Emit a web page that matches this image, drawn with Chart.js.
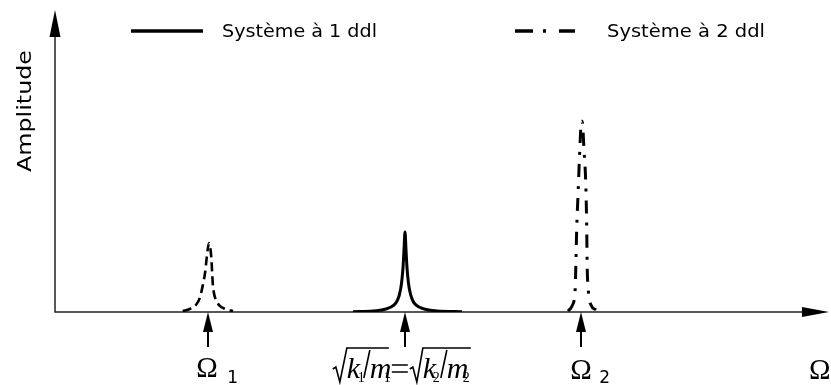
<!DOCTYPE html>
<html><head><meta charset="utf-8">
<script src="https://cdn.jsdelivr.net/npm/chart.js@4/dist/chart.umd.min.js"></script>
<style>html,body{margin:0;padding:0;background:#fff;}#wrap{width:831px;height:385px;position:relative;}</style>
</head><body><div id="wrap"><canvas id="c" width="831" height="385"></canvas></div>
<script>
// ---- data (x: frequency, arbitrary units 0..100 ; y: amplitude, 0..100) ----
const sys1X = [38.5, 41.09, 42.64, 43.41, 43.93, 44.19, 44.45, 44.57, 44.70, 44.83, 44.96, 45.09, 45.22, 45.35, 45.48, 45.61, 45.74, 45.87, 46.0, 46.25, 46.51, 47.03, 47.80, 49.35, 52.58];
const sys1Y = [0.1, 0.33, 0.93, 1.66, 2.65, 3.64, 5.3, 6.6, 8.3, 10.9, 14.6, 20.5, 26.5, 20.5, 14.6, 10.9, 8.3, 6.6, 5.3, 3.64, 2.65, 1.66, 0.93, 0.33, 0.1];
const sys2aX = [16.5, 17.4, 18.2, 18.7, 19.1, 19.4, 19.6, 19.9, 20.2, 20.3, 20.4, 20.7, 21.2, 22.0, 23.0];
const sys2aY = [0.3, 1.0, 2.3, 4.6, 8.9, 13.2, 17.9, 22.8, 17.9, 13.2, 8.9, 4.6, 2.3, 1.0, 0.3];
const sys2bX = [66.3, 66.8, 67.2, 67.3, 67.4, 67.6, 67.8, 68.0, 68.1, 68.35, 68.6, 68.7, 68.75, 68.9, 69.25, 69.9];
const sys2bY = [0.3, 2.0, 7.3, 16.2, 27.2, 40.4, 53.6, 62.9, 63.2, 53.6, 40.4, 27.2, 16.2, 7.3, 2.3, 0.7];
const markX = [19.8, 45.2, 68.0];          // Ω1, sqrt(k/m), Ω2
const legendLabels = ['Système à 1 ddl', 'Système à 2 ddl'];
const axisYLabel = 'Amplitude';
const axisXLabel = 'Ω';

const toPts = (xs, ys) => xs.map((x, i) => ({x, y: ys[i]}));

const SANS = '"DejaVu Sans", sans-serif';
const SERIF = '"Liberation Serif", "DejaVu Serif", serif';

function fitText(ctx, text, x, y, w, font, align) {
  ctx.font = font;
  const m = ctx.measureText(text).width;
  ctx.save();
  ctx.translate(x, y);
  ctx.scale(w / m, 1);
  ctx.textAlign = align || 'left';
  ctx.fillText(text, 0, 0);
  ctx.restore();
}

const decor = {
  id: 'decor',
  beforeDatasetsDraw(chart) {
    const {ctx, chartArea: a} = chart;
    ctx.save();
    ctx.strokeStyle = '#222';
    ctx.lineWidth = 1.5;
    ctx.beginPath();
    ctx.moveTo(a.left, 30); ctx.lineTo(a.left, a.bottom);
    ctx.lineTo(a.right - 10, a.bottom);
    ctx.stroke();
    ctx.restore();
  },
  afterDraw(chart) {
    const {ctx, chartArea: a, scales} = chart;
    const xs = scales.x;
    ctx.save();
    ctx.fillStyle = '#000';
    ctx.strokeStyle = '#000';
    // axis arrowheads
    ctx.beginPath();
    ctx.moveTo(a.left, a.top); ctx.lineTo(a.left - 5.5, a.top + 27); ctx.lineTo(a.left + 5.5, a.top + 27); ctx.closePath(); ctx.fill();
    ctx.beginPath();
    ctx.moveTo(a.right, a.bottom); ctx.lineTo(a.right - 27, a.bottom - 5); ctx.lineTo(a.right - 27, a.bottom + 5); ctx.closePath(); ctx.fill();
    // peak arrows
    markX.forEach(v => {
      const px = Math.round(xs.getPixelForValue(v));
      ctx.beginPath();
      ctx.moveTo(px, a.bottom); ctx.lineTo(px - 5, a.bottom + 20); ctx.lineTo(px + 5, a.bottom + 20); ctx.closePath(); ctx.fill();
      ctx.lineWidth = 2;
      ctx.beginPath(); ctx.moveTo(px, a.bottom + 15); ctx.lineTo(px, a.bottom + 35); ctx.stroke();
    });
    // legend
    ctx.lineWidth = 3.5;
    ctx.setLineDash([]);
    ctx.beginPath(); ctx.moveTo(131, 31); ctx.lineTo(203, 31); ctx.stroke();
    ctx.setLineDash([18, 10, 3, 13]);
    ctx.beginPath(); ctx.moveTo(515, 31); ctx.lineTo(575, 31); ctx.stroke();
    ctx.setLineDash([]);
    ctx.textBaseline = 'middle';
    fitText(ctx, legendLabels[0], 222, 32, 155, '18px ' + SANS);
    fitText(ctx, legendLabels[1], 607, 32, 158, '18px ' + SANS);
    // y label
    ctx.save();
    ctx.translate(26, 111);
    ctx.rotate(-Math.PI / 2);
    fitText(ctx, axisYLabel, 0, 0, 122, '19px ' + SANS, 'center');
    ctx.restore();
    // omega labels
    ctx.textBaseline = 'alphabetic';
    const p1 = xs.getPixelForValue(markX[0]);
    const p2 = xs.getPixelForValue(markX[2]);
    ctx.font = '29px ' + SERIF; ctx.textAlign = 'left';
    ctx.fillText('Ω', p1 - 12, 377);
    ctx.fillText('Ω', p2 - 11, 379);
    ctx.fillText(axisXLabel, 809, 379);
    ctx.font = '17px ' + SANS;
    ctx.fillText('1', p1 + 19, 383);
    ctx.fillText('2', p2 + 18, 383);
    // sqrt(k1/m1) = sqrt(k2/m2)
    const pc = xs.getPixelForValue(markX[1]);
    const o = pc - 405;
    ctx.lineWidth = 1.6;
    ctx.beginPath();
    ctx.moveTo(o + 333, 369); ctx.lineTo(o + 336, 367); ctx.lineTo(o + 340, 382); ctx.lineTo(o + 347, 348); ctx.lineTo(o + 389, 348);
    ctx.moveTo(o + 410, 369); ctx.lineTo(o + 413, 367); ctx.lineTo(o + 417, 382); ctx.lineTo(o + 423, 348); ctx.lineTo(o + 471, 348);
    ctx.moveTo(o + 370, 350); ctx.lineTo(o + 364, 378);
    ctx.moveTo(o + 447, 350); ctx.lineTo(o + 441, 378);
    ctx.moveTo(o + 392, 365); ctx.lineTo(o + 408, 365);
    ctx.moveTo(o + 392, 372); ctx.lineTo(o + 408, 372);
    ctx.stroke();
    ctx.font = 'italic 30px ' + SERIF;
    ctx.fillText('k', o + 347, 378);
    ctx.fillText('m', o + 370, 378);
    ctx.fillText('k', o + 423, 378);
    ctx.fillText('m', o + 447, 378);
    ctx.font = '14px ' + SERIF;
    ctx.fillText('1', o + 358, 382);
    ctx.fillText('1', o + 384, 382);
    ctx.fillText('2', o + 433, 382);
    ctx.fillText('2', o + 463, 382);
    ctx.restore();
  }
};

new Chart(document.getElementById('c'), {
  type: 'line',
  data: {
    datasets: [
      {label: legendLabels[0], data: toPts(sys1X, sys1Y), borderColor: '#000', borderWidth: 3, cubicInterpolationMode: 'monotone', pointRadius: 0, fill: false},
      {label: legendLabels[1], data: toPts(sys2aX, sys2aY), borderColor: '#000', borderWidth: 2.6, borderDash: [9, 5], cubicInterpolationMode: 'monotone', pointRadius: 0, fill: false},
      {label: legendLabels[1], data: toPts(sys2bX, sys2bY), borderColor: '#000', borderWidth: 3, borderDash: [13, 9, 3, 9], cubicInterpolationMode: 'monotone', pointRadius: 0, fill: false}
    ]
  },
  options: {
    responsive: false,
    animation: false,
    layout: {padding: {left: 55, right: 2, top: 10, bottom: 73}},
    scales: {
      x: {type: 'linear', min: 0, max: 100, display: false},
      y: {type: 'linear', min: 0, max: 100, display: false}
    },
    plugins: {legend: {display: false}, tooltip: {enabled: false}}
  },
  plugins: [decor]
});
</script>
</body></html>
